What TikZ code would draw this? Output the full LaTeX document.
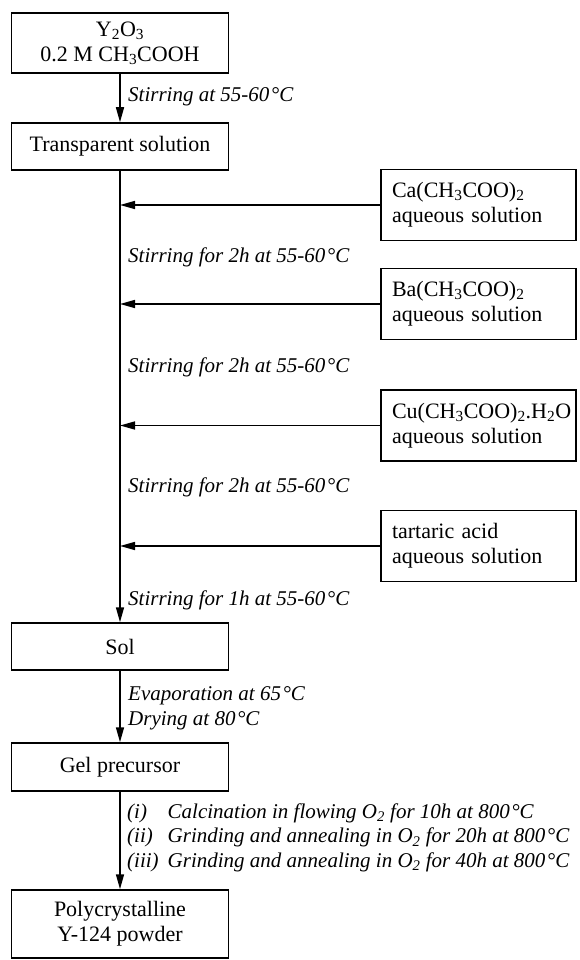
\documentclass[tikz,border=0pt]{standalone}
\usepackage{fontspec}
\setmainfont{Liberation Serif}
\usetikzlibrary{arrows.meta}

\newcommand{\flowsize}{\fontsize{22}{25}\selectfont}
\newcommand{\condsize}{\fontsize{21}{24.5}\selectfont}
\newcommand{\degC}{\kern1.5pt°C}

\tikzset{
  stagebox/.style={draw, line width=1.5pt, minimum width=217pt, minimum height=#1, align=center, inner sep=0pt},
  addbox/.style={draw, line width=1.5pt, minimum width=195pt, minimum height=71pt, text width=173pt, align=left, inner sep=0pt},
  flow/.style={line width=1.5pt, -{Triangle[length=15pt,width=8pt]}},
  cond/.style={anchor=west, font=\condsize\itshape, align=left, inner sep=0pt},
}

\begin{document}
\begin{tikzpicture}[x=1pt, y=-1pt, font=\flowsize]
    \useasboundingbox (0,0) rectangle (579,960);

    % main line of the process
    \node[stagebox=60pt] (yoxide) at (120,43) {Y\textsubscript{2}O\textsubscript{3}\\0.2 M CH\textsubscript{3}COOH};
    \node[stagebox=47pt] (clear) at (120,146.5) {Transparent solution};
    \node[stagebox=47pt] (sol) at (120,646.5) {Sol};
    \node[stagebox=48pt] (gel) at (120,767) {Gel precursor};
    \node[stagebox=68pt] (powder) at (120,924) {Polycrystalline\\Y-124 powder};

    % solutions added from the right
    \node[addbox] (ca) at (478.5,205) {Ca(CH\textsubscript{3}COO)\textsubscript{2}\\aqueous solution};
    \node[addbox] (ba) at (478.5,304) {Ba(CH\textsubscript{3}COO)\textsubscript{2}\\aqueous solution};
    \node[addbox] (cu) at (478.5,425.5) {Cu(CH\textsubscript{3}COO)\textsubscript{2}.H\textsubscript{2}O\\aqueous solution};
    \node[addbox] (tart) at (478.5,546) {tartaric acid\\aqueous solution};

    % conditions
    \node[cond] (c0) at (128,97) {Stirring at 55-60\degC};
    \node[cond] (c1) at (128,257) {Stirring for 2h at 55-60\degC};
    \node[cond] (c2) at (128,367) {Stirring for 2h at 55-60\degC};
    \node[cond] (c3) at (128,487) {Stirring for 2h at 55-60\degC};
    \node[cond] (c4) at (128,600) {Stirring for 1h at 55-60\degC};
    \node[cond] (dry) at (128,708.5) {Evaporation at 65\degC\\Drying at 80\degC};
    \node[cond] (heat) at (127,838) {\begin{tabular}{@{}l@{\hspace{9pt}}l@{}}
        (i) & Calcination in flowing O\textsubscript{2} for 10h at 800\degC\\
        (ii) & Grinding and annealing in O\textsubscript{2} for 20h at 800\degC\\
        (iii) & Grinding and annealing in O\textsubscript{2} for 40h at 800\degC
      \end{tabular}};

    \draw[flow] (yoxide) -- (clear);
    \draw[flow] (clear.south) -- (sol.north);
    \foreach \src in {ca,ba,cu,tart}
        \draw[flow] (\src.west) -- (\src.west -| clear.south);
    \draw[flow] (sol) -- (gel);
    \draw[flow] (gel) -- (powder);
\end{tikzpicture}
\end{document}
